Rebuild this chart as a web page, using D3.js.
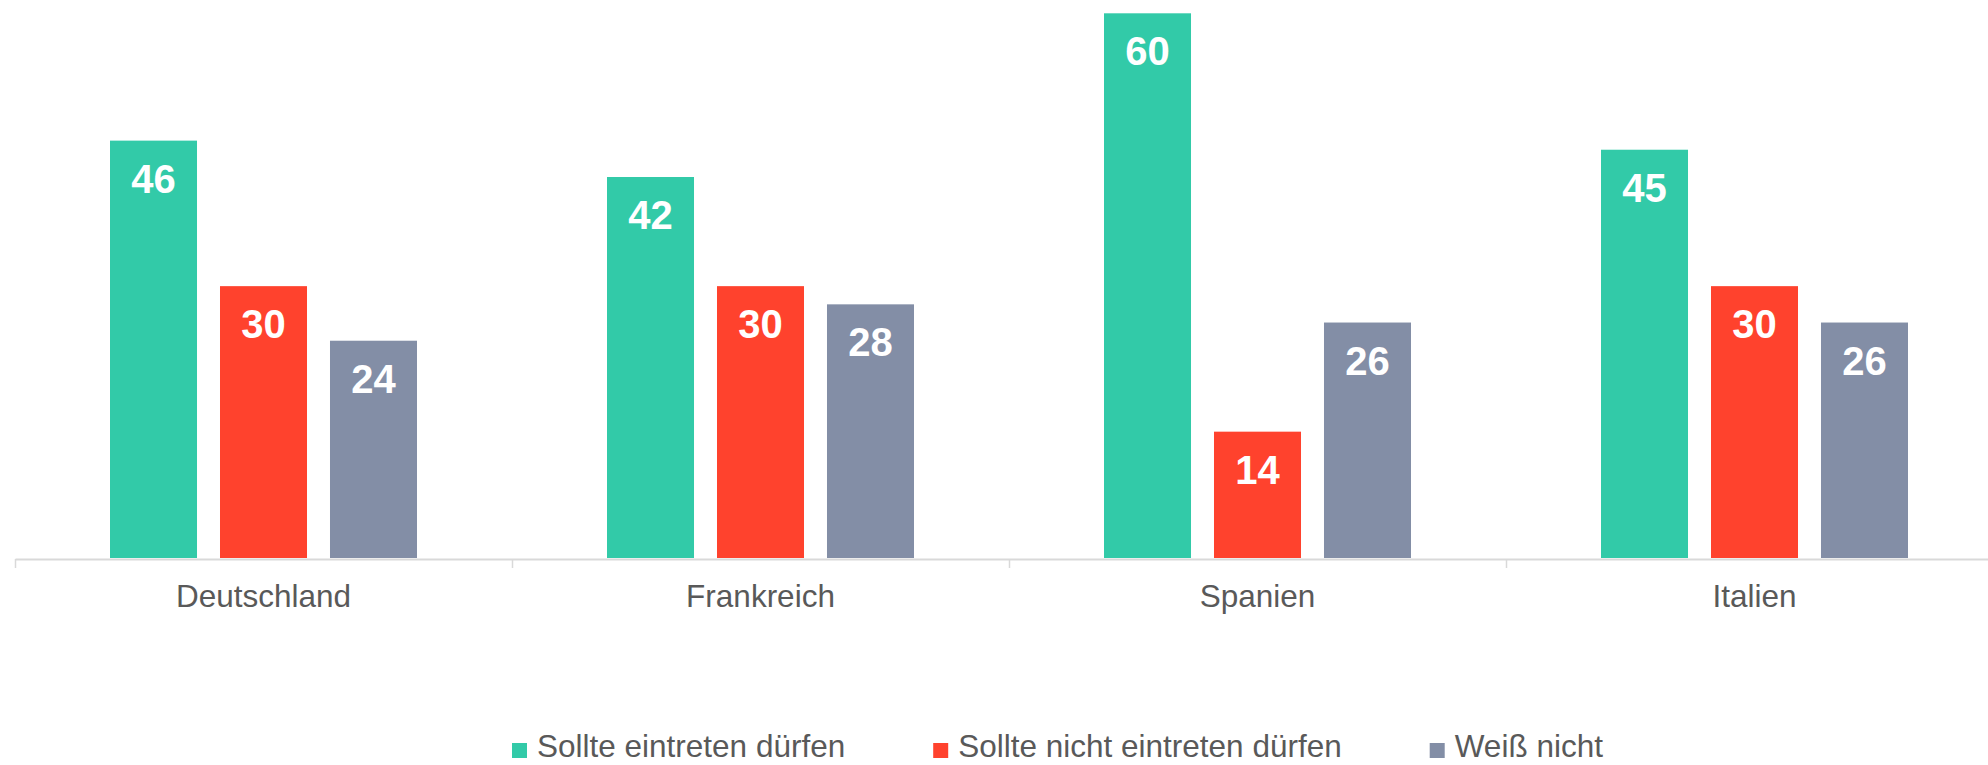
<!DOCTYPE html>
<html>
<head>
<meta charset="utf-8">
<script src="https://cdn.jsdelivr.net/npm/d3@7"></script>
<style>
  body { margin: 0; background: #fff; }
  svg { display: block; font-family: "Liberation Sans", Arial, sans-serif; }
</style>
</head>
<body>
<script>
// data
const countries = ["Deutschland", "Frankreich", "Spanien", "Italien"];
const keys = ["Sollte eintreten dürfen", "Sollte nicht eintreten dürfen", "Weiß nicht"];
const eintreten = [46, 42, 60, 45];
const nichtEintreten = [30, 30, 14, 30];
const weissNicht = [24, 28, 26, 26];
const colors = ["#32CAA8", "#FF422D", "#838EA6"];

const seriesValues = [eintreten, nichtEintreten, weissNicht];
const data = countries.map((c, i) => ({
    country: c,
    values: keys.map((k, j) => ({key: k, value: seriesValues[j][i]}))
}));

const W = 1988, H = 765;
const baseY = 559;

const svg = d3.select("body")
    .append("svg")
    .attr("width", W)
    .attr("height", H);

// scales
const x = d3.scaleBand()
    .domain(countries)
    .range([15, 2003]);

const xInner = d3.scaleBand()
    .domain(keys)
    .range([95, 402])
    .paddingInner(0.209);

const y = d3.scaleLinear()
    .domain([0, 60])
    .range([baseY, 13.3]);

const color = d3.scaleOrdinal()
    .domain(keys)
    .range(colors);

// boundary ticks + axis line
const xEdge = d3.scaleLinear().domain([0, countries.length]).range(x.range());
const edgeAxis = svg.append("g")
    .attr("transform", `translate(0, ${baseY})`)
    .call(d3.axisBottom(xEdge).ticks(countries.length).tickSize(9).tickSizeOuter(0).tickFormat(""));
edgeAxis.select(".domain").attr("stroke", "#d9d9d9").attr("stroke-width", 2);
edgeAxis.selectAll(".tick line").attr("stroke", "#d9d9d9").attr("stroke-width", 1.5);

// bars
const groups = svg.selectAll("g.group")
    .data(data)
    .join("g")
    .attr("class", "group")
    .attr("transform", d => `translate(${x(d.country)}, 0)`);

groups.selectAll("rect")
    .data(d => d.values)
    .join("rect")
    .attr("x", d => xInner(d.key))
    .attr("width", xInner.bandwidth())
    .attr("y", d => y(d.value))
    .attr("height", d => y(0) - y(d.value) - 1)
    .attr("fill", d => color(d.key));

groups.selectAll("text.val")
    .data(d => d.values)
    .join("text")
    .attr("class", "val")
    .attr("x", d => xInner(d.key) + xInner.bandwidth() / 2)
    .attr("y", d => y(d.value) + 52)
    .attr("text-anchor", "middle")
    .attr("fill", "#fff")
    .attr("font-weight", "bold")
    .attr("font-size", 40)
    .text(d => d.value);

// category labels
const labelAxis = svg.append("g")
    .attr("transform", `translate(0, ${baseY})`)
    .call(d3.axisBottom(x).tickSize(0));
labelAxis.select(".domain").remove();
labelAxis.selectAll("text")
    .attr("y", 48)
    .attr("dy", 0)
    .attr("fill", "#595959")
    .attr("font-size", 31.5)
    .attr("font-family", "'Liberation Sans', Arial, sans-serif");

// legend
const legendRectSize = 15;
const legendSpacing = 10;
const legendGap = 88;

const legend = svg.selectAll(".legend")
    .data(keys)
    .join("g")
    .attr("class", "legend");

legend.append("rect")
    .attr("x", 0)
    .attr("y", 743)
    .attr("width", legendRectSize)
    .attr("height", legendRectSize)
    .attr("fill", d => color(d));

legend.append("text")
    .attr("x", legendRectSize + legendSpacing)
    .attr("y", 757)
    .attr("fill", "#595959")
    .attr("font-size", 31.5)
    .text(d => d);

let lx = 512;
legend.each(function() {
    const g = d3.select(this);
    g.attr("transform", `translate(${lx}, 0)`);
    const w = legendRectSize + legendSpacing + g.select("text").node().getComputedTextLength();
    lx += w + legendGap;
});
</script>
</body>
</html>
